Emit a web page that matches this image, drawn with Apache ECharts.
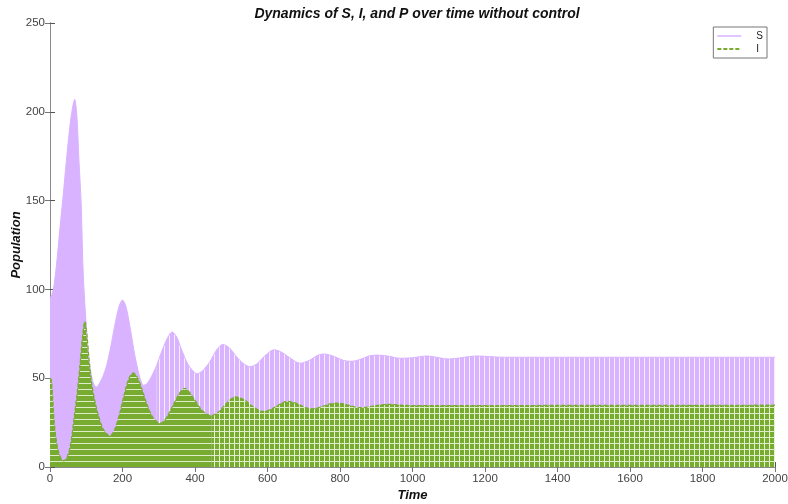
<!DOCTYPE html>
<html>
<head>
<meta charset="utf-8">
<script src="https://cdn.jsdelivr.net/npm/echarts@6/dist/echarts.min.js"></script>
<style>
  html, body { margin: 0; padding: 0; background: #ffffff; }
  #chart { width: 788px; height: 504px; }
</style>
</head>
<body>
<div id="chart"></div>
<script>
// ---- data ----
const sTime = [0, 5, 11, 20, 30, 36, 45, 55, 62, 68, 74, 80, 86, 91, 96, 100, 106, 112, 120, 128, 136, 146, 156, 166, 179, 190, 200, 210, 223, 233, 241, 250, 258, 268, 280, 294, 310, 325, 337, 350, 363, 380, 395, 405, 420, 440, 460, 477, 495, 515, 535, 552, 570, 595, 618, 640, 665, 690, 715, 740, 757, 780, 810, 830, 855, 880, 901, 930, 966, 1000, 1040, 1100, 1177, 1250, 1400, 1600, 1800, 2000];
const sValue = [95, 97, 102, 118, 140, 152, 172, 192, 202, 207, 198, 172, 148, 112, 92, 80, 64, 54, 47, 45, 47, 51, 57, 66, 80, 90, 94, 90, 76, 64, 56, 49, 46, 47, 51, 57, 66, 73, 76, 73, 66, 58, 54, 52.5, 54, 59, 66, 69, 67, 62, 58, 56.5, 58, 63, 66, 64.5, 61, 58.4, 60, 63, 63.6, 62.5, 60, 59.5, 60.5, 62.5, 63, 62.5, 61.2, 61.5, 62.5, 60.8, 62.5, 61.8, 61.8, 61.8, 61.8, 61.8];

const iTime = [0, 4, 11, 16, 22, 30, 38, 46, 54, 60, 66, 74, 82, 90, 96, 102, 108, 115, 125, 135, 145, 155, 165, 178, 192, 205, 218, 230, 242, 255, 268, 282, 295, 303, 315, 330, 345, 360, 372, 385, 400, 415, 430, 446, 465, 490, 512, 535, 560, 587, 610, 635, 655, 680, 705, 726, 750, 770, 793, 820, 842, 865, 895, 930, 970, 1000, 2000];
const iValue = [50, 49, 27, 17, 10, 5, 3.5, 5, 10, 17, 27, 40, 56, 74, 82, 74, 60, 47, 36, 28, 22, 19, 17.5, 21, 30, 41, 50, 53, 50, 43, 35, 28.5, 25.5, 24.6, 26, 31, 37, 42.5, 44.3, 42, 37.5, 33, 30, 28.8, 31, 36.5, 39.5, 38, 34, 31.3, 32.5, 35.5, 37, 35.8, 33.5, 32.8, 34, 35.4, 36, 35, 33.8, 33.5, 34.5, 35.3, 34.8, 34.6, 34.8];

const xTickValues = [0, 200, 400, 600, 800, 1000, 1200, 1400, 1600, 1800, 2000];
const yTickValues = [0, 50, 100, 150, 200, 250];

const sData = sTime.map((t, k) => [t, sValue[k]]);
const iData = iTime.map((t, k) => [t, iValue[k]]);
const sSplit = 294, iSplit = 446;

// ---- textures (style only) ----
const PURPLE = '#d9b3ff';
const GREEN = '#77ac30';
function pattern(base, w, h, vert, horiz) {
  const c = document.createElement('canvas');
  c.width = w; c.height = h;
  const g = c.getContext('2d');
  g.fillStyle = base; g.fillRect(0, 0, w, h);
  if (vert) { g.fillStyle = vert; g.fillRect(w - 1, 0, 1, h); }
  if (horiz) { g.fillStyle = horiz; g.fillRect(0, h - 1, w, 1); }
  return { image: c, repeat: 'repeat' };
}
const purpleLate = pattern(PURPLE, 5, 6, '#f6eefd', null);
const greenEarly = pattern(GREEN, 5, 6, null, '#dfeccb');
const greenLate = pattern(GREEN, 5, 6, '#e6f3cf', '#dfeccb');

const FONT = 'Liberation Sans, Arial, sans-serif';
const chart = echarts.init(document.getElementById('chart'));
const axisGray = '#8a8a8a';
const plain = v => String(v);

chart.setOption({
  animation: false,
  backgroundColor: '#ffffff',
  title: {
    text: 'Dynamics of S, I, and P over time without control',
    left: 412, top: 2, textAlign: 'center',
    textStyle: { fontSize: 14, fontWeight: 'bold', fontStyle: 'italic', color: '#111', fontFamily: FONT }
  },
  legend: {
    right: 21, top: 27, orient: 'vertical',
    backgroundColor: '#fff', borderColor: '#777', borderWidth: 1, borderRadius: 0,
    padding: [4, 4, 4, 3], itemGap: 3, itemWidth: 24, itemHeight: 9,
    textStyle: { fontSize: 10, color: '#222', fontFamily: FONT, padding: [0, 0, 0, 10] },
    data: [
      { name: 'S', itemStyle: { opacity: 0 }, lineStyle: { color: PURPLE, width: 1.5, type: 'solid' } },
      { name: 'I', itemStyle: { opacity: 0 }, lineStyle: { color: GREEN, width: 2, type: [4, 2] } }
    ]
  },
  grid: { left: 50, right: 13, top: 23, bottom: 37, outerBoundsMode: 'none', containLabel: false },
  xAxis: [{
    type: 'value', min: 0, max: 2000, interval: 200,
    name: 'Time', nameLocation: 'middle', nameGap: 22, nameMoveOverlap: false,
    nameTextStyle: { fontSize: 13, fontWeight: 'bold', fontStyle: 'italic', color: '#111', fontFamily: FONT },
    axisLine: { show: true, lineStyle: { color: axisGray } },
    axisTick: { show: true, inside: true, length: 5, lineStyle: { color: '#555' } },
    axisLabel: { fontSize: 11.5, color: '#444', fontFamily: FONT, margin: 6, formatter: plain,
      customValues: xTickValues },
    splitLine: { show: false }
  }, {
    type: 'value', min: 0, max: 2000, interval: 200, position: 'top',
    axisLine: { show: true, lineStyle: { color: axisGray } },
    axisTick: { show: true, inside: true, length: 5, lineStyle: { color: '#777' } },
    axisLabel: { show: false }, splitLine: { show: false }
  }],
  yAxis: [{
    type: 'value', min: 0, max: 250, interval: 50,
    name: 'Population', nameLocation: 'middle', nameGap: 27, nameRotate: 90, nameMoveOverlap: false,
    nameTextStyle: { fontSize: 13, fontWeight: 'bold', fontStyle: 'italic', color: '#111', fontFamily: FONT },
    axisLine: { show: true, lineStyle: { color: axisGray } },
    axisTick: { show: true, inside: true, length: 5, lineStyle: { color: '#555' } },
    axisLabel: { fontSize: 11.5, color: '#444', fontFamily: FONT, margin: 5, formatter: plain,
      customValues: yTickValues },
    splitLine: { show: false }
  }, {
    type: 'value', min: 0, max: 250, interval: 50, position: 'right',
    axisLine: { show: true, lineStyle: { color: axisGray } },
    axisTick: { show: true, inside: true, length: 5, lineStyle: { color: '#777' } },
    axisLabel: { show: false }, splitLine: { show: false }
  }],
  series: [
    {
      name: 'S', type: 'line', symbol: 'none', smooth: 0.3,
      data: sData.filter(p => p[0] <= sSplit),
      lineStyle: { color: PURPLE, width: 1 },
      itemStyle: { color: PURPLE },
      areaStyle: { color: PURPLE, opacity: 1 }
    },
    {
      name: 'S', type: 'line', symbol: 'none', smooth: 0.3,
      data: sData.filter(p => p[0] >= sSplit),
      lineStyle: { color: PURPLE, width: 1 },
      itemStyle: { color: PURPLE },
      areaStyle: { color: purpleLate, opacity: 1 }
    },
    {
      name: 'I', type: 'line', symbol: 'none', smooth: 0.3,
      data: iData.filter(p => p[0] <= iSplit),
      lineStyle: { color: GREEN, width: 1.2, type: [4, 2] },
      itemStyle: { color: GREEN },
      areaStyle: { color: greenEarly, opacity: 1 }
    },
    {
      name: 'I', type: 'line', symbol: 'none', smooth: 0.3,
      data: iData.filter(p => p[0] >= iSplit),
      lineStyle: { color: GREEN, width: 1.2, type: [4, 2] },
      itemStyle: { color: GREEN },
      areaStyle: { color: greenLate, opacity: 1 }
    }
  ]
});
</script>
</body>
</html>
